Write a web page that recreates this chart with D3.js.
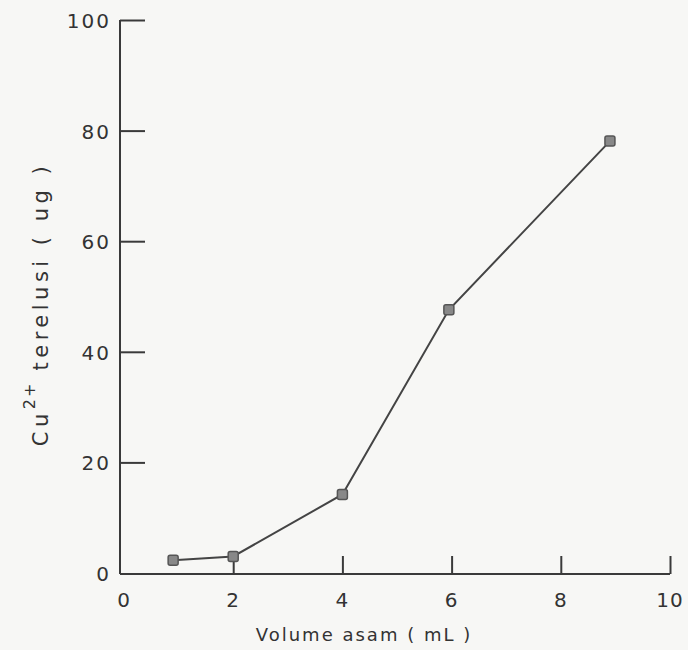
<!DOCTYPE html>
<html><head><meta charset="utf-8">
<script src="https://cdn.jsdelivr.net/npm/d3@7"></script>
<style>body{margin:0;background:#f7f7f5}svg{display:block}</style>
</head><body><svg id="c" width="688" height="650"></svg>
<script>
const volume = [0.9, 2, 4, 5.95, 8.9];
const copper = [2.3, 3, 14.2, 47.6, 78.1];
const xTicks = [0, 2, 4, 6, 8, 10];
const yTicks = [0, 20, 40, 60, 80, 100];

const svg = d3.select("#c");
const x = d3.scaleLinear().domain([0, 10]).range([124, 670]);
const y = d3.scaleLinear().domain([0, 100]).range([573, 20]);
const ink = "#3a3a3a";
const font = "'DejaVu Sans', sans-serif";

svg.append("line").attr("x1", 120).attr("x2", 120).attr("y1", y(100)).attr("y2", 574)
  .attr("stroke", ink).attr("stroke-width", 2);
svg.append("line").attr("x1", 120).attr("x2", x(10)).attr("y1", 574).attr("y2", 574)
  .attr("stroke", ink).attr("stroke-width", 2);

const yAxis = d3.axisRight(y).tickValues(yTicks.slice(1)).tickSize(25).tickFormat("");
const ga = svg.append("g").attr("transform", "translate(120,0)").call(yAxis);
ga.select(".domain").remove();
ga.selectAll(".tick line").attr("stroke", ink).attr("stroke-width", 2);

svg.selectAll(".ylab").data(yTicks).join("text")
  .attr("x", 111).attr("y", d => y(d) + 8).attr("text-anchor", "end")
  .attr("font-family", font).attr("font-size", 20).attr("fill", "#333")
  .attr("letter-spacing", 2).text(d => d);

const xAxis = d3.axisTop(x).tickValues(xTicks.slice(1)).tickSize(18).tickFormat("");
const gx = svg.append("g").attr("transform", "translate(0,574)").call(xAxis);
gx.select(".domain").remove();
gx.selectAll(".tick line").attr("stroke", ink).attr("stroke-width", 2);

svg.selectAll(".xlab").data(xTicks).join("text")
  .attr("x", d => x(d)).attr("y", 607).attr("text-anchor", "middle")
  .attr("font-family", font).attr("font-size", 20).attr("fill", "#333")
  .attr("letter-spacing", 1).text(d => d);

svg.append("text").attr("x", 364).attr("y", 641).attr("text-anchor", "middle")
  .attr("font-family", font).attr("font-size", 18).attr("fill", "#333")
  .attr("letter-spacing", 2).text("Volume asam ( mL )");

const yt = svg.append("text").attr("transform", "translate(48,304) rotate(-90)")
  .attr("text-anchor", "middle").attr("font-family", font).attr("font-size", 21)
  .attr("fill", "#333").attr("letter-spacing", 4.5);
yt.append("tspan").text("Cu");
yt.append("tspan").attr("dy", -13).attr("font-size", 16).attr("letter-spacing", 2).text("2+");
yt.append("tspan").attr("dy", 13).text(" terelusi  ( ug )");

const pts = volume.map((v, i) => [v, copper[i]]);
svg.append("path").datum(pts)
  .attr("d", d3.line().x(d => x(d[0])).y(d => y(d[1])))
  .attr("fill", "none").attr("stroke", "#444").attr("stroke-width", 2);
svg.selectAll(".pt").data(pts).join("rect")
  .attr("x", d => x(d[0]) - 5).attr("y", d => y(d[1]) - 5)
  .attr("width", 10).attr("height", 10).attr("rx", 2)
  .attr("fill", "#888").attr("stroke", "#555").attr("stroke-width", 1.5);
</script></body></html>
